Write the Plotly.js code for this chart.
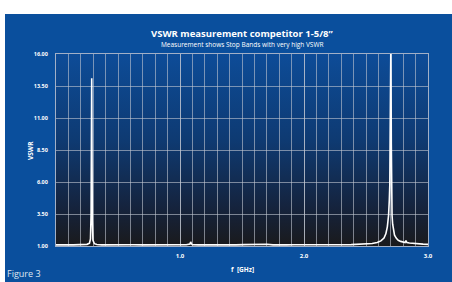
<!DOCTYPE html>
<html><head><meta charset="utf-8">
<script src="https://cdn.plot.ly/plotly-3.0.1.min.js"></script>
<style>
html,body{margin:0;padding:0;background:#fff;width:452px;height:282px;overflow:hidden;}
#chart{position:absolute;left:5px;top:14px;width:447px;height:268px;}
</style></head>
<body><div id="chart"></div>
<script>
const freqGHz = [0, 0.03, 0.06, 0.1, 0.14, 0.18, 0.22, 0.25, 0.27, 0.278, 0.283, 0.286, 0.288, 0.290, 0.293, 0.298, 0.31, 0.33, 0.37, 0.42, 0.48, 0.55, 0.62, 0.7, 0.78, 0.85, 0.92, 1.0, 1.05, 1.08, 1.086, 1.092, 1.1, 1.15, 1.22, 1.3, 1.38, 1.45, 1.52, 1.6, 1.65, 1.7, 1.75, 1.8, 1.86, 1.92, 2.0, 2.08, 2.15, 2.22, 2.3, 2.38, 2.45, 2.5, 2.55, 2.59, 2.62, 2.645, 2.66, 2.672, 2.682, 2.688, 2.692, 2.695, 2.698, 2.701, 2.704, 2.707, 2.71, 2.715, 2.72, 2.73, 2.745, 2.76, 2.78, 2.8, 2.815, 2.822, 2.83, 2.85, 2.88, 2.92, 2.96, 3.0];
const vswr = [1.09, 1.11, 1.08, 1.1, 1.09, 1.11, 1.1, 1.13, 1.22, 1.55, 3.5, 9.0, 14.1, 8.5, 3.0, 1.45, 1.18, 1.12, 1.09, 1.1, 1.08, 1.09, 1.1, 1.09, 1.08, 1.1, 1.09, 1.09, 1.1, 1.15, 1.32, 1.17, 1.1, 1.09, 1.08, 1.1, 1.09, 1.09, 1.11, 1.13, 1.1, 1.14, 1.09, 1.11, 1.09, 1.1, 1.09, 1.1, 1.09, 1.11, 1.1, 1.11, 1.13, 1.16, 1.2, 1.28, 1.4, 1.62, 1.95, 2.5, 3.4, 4.6, 5.8, 10.0, 17.5, 17.5, 9.0, 4.6, 3.4, 2.7, 2.25, 1.85, 1.6, 1.45, 1.36, 1.3, 1.27, 1.42, 1.27, 1.24, 1.2, 1.17, 1.15, 1.13];
const yTickVals = [1, 3.5, 6, 8.5, 11, 13.5, 16];
const yTickText = ["1.00", "3.50", "6.00", "8.50", "11.00", "13.50", "16.00"];
const xTickVals = [1, 2, 3];
const xTickText = ["1.0", "2.0", "3.0"];

const svg = "<svg xmlns='http://www.w3.org/2000/svg' width='10' height='100' preserveAspectRatio='none'><defs><linearGradient id='g' x1='0' y1='0' x2='0' y2='1'><stop offset='0' stop-color='#0d4c98'/><stop offset='0.45' stop-color='#0e3a72'/><stop offset='0.8' stop-color='#15233d'/><stop offset='1' stop-color='#1a1a1c'/></linearGradient></defs><rect width='10' height='100' fill='url(#g)'/></svg>";
const bg = "data:image/svg+xml;charset=utf-8," + encodeURIComponent(svg);

const font = "Open Sans, Noto Sans, sans-serif";
const grid = "rgba(195,200,210,0.6)";

Plotly.newPlot("chart", [{
  x: freqGHz, y: vswr, type: "scatter", mode: "lines",
  line: {color: "#ffffff", width: 1.6}, hoverinfo: "skip", cliponaxis: true
}], {
  width: 447, height: 268,
  margin: {l: 51, r: 24, t: 40, b: 36},
  paper_bgcolor: "#0a4f9d",
  plot_bgcolor: "rgba(0,0,0,0)",
  showlegend: false,
  font: {family: font, color: "#ffffff"},
  xaxis: {
    range: [0, 3], tickvals: xTickVals, ticktext: xTickText,
    tickfont: {size: 6, color: "#ffffff", family: font, weight: "bold"},
    ticks: "", ticklabelstandoff: 4,
    showgrid: true, gridcolor: grid, gridwidth: 1,
    minor: {dtick: 0.1, tick0: 0, showgrid: true, gridcolor: grid, gridwidth: 1},
    showline: true, linecolor: "rgba(200,200,210,0.8)", linewidth: 1, mirror: true,
    zeroline: false, fixedrange: true
  },
  yaxis: {
    range: [1, 16], tickvals: yTickVals, ticktext: yTickText,
    tickfont: {size: 5.5, color: "#ffffff", family: font, weight: "bold"},
    ticks: "", ticklabelstandoff: 6,
    showgrid: true, gridcolor: grid, gridwidth: 1,
    showline: true, linecolor: "rgba(200,200,210,0.8)", linewidth: 1, mirror: true,
    zeroline: false, fixedrange: true
  },
  images: [{source: bg, xref: "paper", yref: "paper", x: 0, y: 1, sizex: 1, sizey: 1,
    xanchor: "left", yanchor: "top", sizing: "stretch", layer: "below"}],
  annotations: [
    {text: "<b>VSWR measurement competitor 1-5/8\u201D</b>", xref: "paper", yref: "paper",
     x: 0.5, y: 1.109, xanchor: "center", yanchor: "middle", showarrow: false,
     font: {size: 9.5, color: "#ffffff", family: font}},
    {text: "Measurement shows Stop Bands with very high VSWR", xref: "paper", yref: "paper",
     x: 0.5, y: 1.047, xanchor: "center", yanchor: "middle", showarrow: false,
     font: {size: 6.5, color: "#ffffff", family: font}},
    {text: "<b>VSWR</b>", xref: "paper", yref: "paper", x: -0.07, y: 0.5, textangle: -90,
     xanchor: "center", yanchor: "middle", showarrow: false,
     font: {size: 6.5, color: "#ffffff", family: font}},
    {text: "<b>f  [GHz]</b>", xref: "paper", yref: "paper", x: 0.5, y: -0.12,
     xanchor: "center", yanchor: "middle", showarrow: false,
     font: {size: 6.5, color: "#ffffff", family: font}},
    {text: "Figure 3", xref: "paper", yref: "paper", x: -0.137, y: -0.185,
     xanchor: "left", yanchor: "bottom", showarrow: false,
     font: {size: 9, color: "#dfe6f0", family: font}}
  ]
}, {staticPlot: true, displayModeBar: false});
</script></body></html>
